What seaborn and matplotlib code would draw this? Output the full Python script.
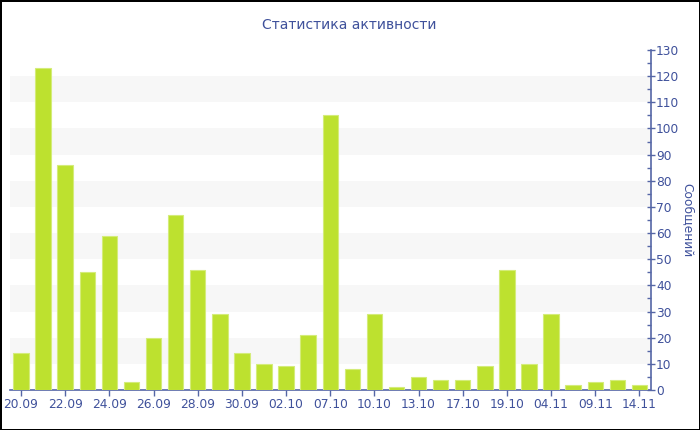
import matplotlib
matplotlib.use("Agg")
import matplotlib.pyplot as plt
import seaborn as sns
import pandas as pd
from matplotlib.ticker import MultipleLocator

dates = ["20.09", "21.09", "22.09", "23.09", "24.09", "25.09", "26.09", "27.09",
         "28.09", "29.09", "30.09", "01.10", "02.10", "05.10", "07.10", "08.10",
         "10.10", "11.10", "13.10", "15.10", "17.10", "18.10", "19.10", "20.10",
         "04.11", "06.11", "09.11", "11.11", "14.11"]
messages = [14, 123, 86, 45, 59, 3, 20, 67, 46, 29, 14, 10, 9, 21, 105, 8,
            29, 1, 5, 4, 4, 9, 46, 10, 29, 2, 3, 4, 2]

title = "Статистика активности"
ylabel = "Сообщений"

text_color = "#3f519b"
axis_color = "#5566a6"
bar_color = "#bde12f"

sns.set_theme(style="white")
plt.rcParams['font.family'] = ['DejaVu Sans']

fig = plt.figure(figsize=(7, 4.3), dpi=100)
fig.patch.set_facecolor("white")
fig.patch.set_edgecolor("black")
fig.patch.set_linewidth(2)
ax = fig.add_axes([10 / 700, 1 - 390 / 430, (650.5 - 10) / 700, (390 - 50) / 430])

df = pd.DataFrame({"date": dates, "messages": messages})
sns.barplot(data=df, x="date", y="messages", color=bar_color, saturation=1,
            width=0.7, edgecolor="#d4ec7a", linewidth=0.8, ax=ax, zorder=3)

for lo in range(10, 130, 20):
    ax.axhspan(lo, lo + 10, color="#f7f7f7", zorder=0, lw=0)

ax.set_xlim(-0.5, len(dates) - 0.5)
ax.set_ylim(0, 130)

ax.yaxis.tick_right()
ax.yaxis.set_label_position("right")
ax.yaxis.set_major_locator(MultipleLocator(10))
ax.yaxis.set_minor_locator(MultipleLocator(5))
ax.tick_params(axis="y", which="major", direction="inout", length=6, width=1,
               color=axis_color, labelcolor=text_color, labelsize=8.8, pad=1)
ax.tick_params(axis="y", which="minor", direction="in", length=3, width=1,
               color=axis_color, right=True, left=False)

positions = list(range(0, len(dates), 2))
ax.set_xticks(positions)
ax.set_xticklabels([dates[i] for i in positions])
ax.tick_params(axis="x", which="major", direction="out", length=4, width=1,
               color=axis_color, labelcolor=text_color, labelsize=8.8, pad=1.5,
               bottom=True)

for s in ["top", "left"]:
    ax.spines[s].set_visible(False)
for s in ["bottom", "right"]:
    ax.spines[s].set_color(axis_color)
    ax.spines[s].set_linewidth(1.2)

ax.set_xlabel("")
ax.set_ylabel(ylabel, rotation=270, color=text_color, fontsize=8.8, labelpad=11)
ax.grid(False)

fig.text(349 / 700, 1 - 25 / 430, title, ha="center", va="center",
         color=text_color, fontsize=10)

fig.savefig("out.png", dpi=100, facecolor=fig.get_facecolor(),
            edgecolor=fig.get_edgecolor())
